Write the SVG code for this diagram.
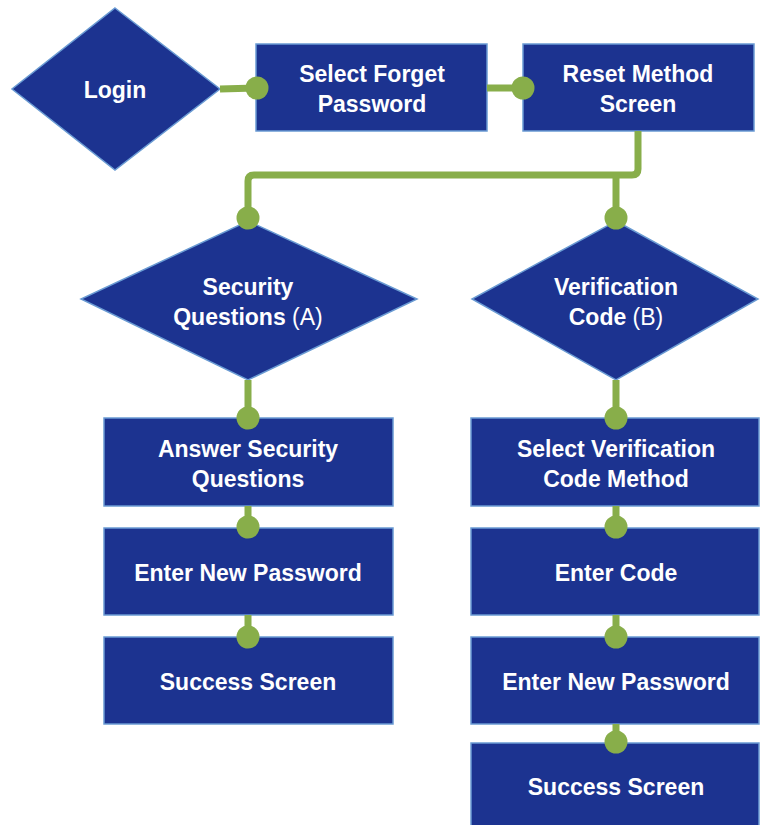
<svg xmlns="http://www.w3.org/2000/svg" width="760" height="825" viewBox="0 0 760 825">
  <style>
    .box { fill: #1c3390; stroke: #6a9bd3; stroke-width: 1.5; }
    .lbl { font-family: "Liberation Sans", Arial, sans-serif; font-size: 23px; font-weight: bold; fill: #ffffff; text-anchor: middle; }
    .thin { font-weight: normal; }
    .wire { fill: none; stroke: #88ae4a; stroke-width: 7; stroke-linejoin: round; }
    .dot { fill: #88ae4a; }
  </style>
  <rect width="760" height="825" fill="#ffffff"/>

  <g id="login">
    <polygon class="box" points="115,8 220,89 115,170 12,89"/>
    <text class="lbl" x="115" y="98">Login</text>
  </g>
  <g id="select-forget">
    <rect class="box" x="256" y="44" width="231" height="87"/>
    <text class="lbl" x="372" y="82">Select Forget</text>
    <text class="lbl" x="372" y="112">Password</text>
  </g>
  <g id="reset-method">
    <rect class="box" x="523" y="44" width="231" height="87"/>
    <text class="lbl" x="638" y="82">Reset Method</text>
    <text class="lbl" x="638" y="112">Screen</text>
  </g>

  <g id="security-questions">
    <polygon class="box" points="248,221 417,299 248,380 81,299"/>
    <text class="lbl" x="248" y="295">Security</text>
    <text class="lbl" x="248" y="325">Questions <tspan class="thin">(A)</tspan></text>
  </g>
  <g id="verification-code">
    <polygon class="box" points="616,221 758,299 616,380 472,299"/>
    <text class="lbl" x="616" y="295">Verification</text>
    <text class="lbl" x="616" y="325">Code <tspan class="thin">(B)</tspan></text>
  </g>

  <g id="answer-questions">
    <rect class="box" x="104" y="418" width="289" height="88"/>
    <text class="lbl" x="248" y="457">Answer Security</text>
    <text class="lbl" x="248" y="487">Questions</text>
  </g>
  <g id="new-password-a">
    <rect class="box" x="104" y="528" width="289" height="87"/>
    <text class="lbl" x="248" y="581">Enter New Password</text>
  </g>
  <g id="success-a">
    <rect class="box" x="104" y="637" width="289" height="87"/>
    <text class="lbl" x="248" y="690">Success Screen</text>
  </g>

  <g id="select-code-method">
    <rect class="box" x="471" y="418" width="288" height="88"/>
    <text class="lbl" x="616" y="457">Select Verification</text>
    <text class="lbl" x="616" y="487">Code Method</text>
  </g>
  <g id="enter-code">
    <rect class="box" x="471" y="528" width="288" height="87"/>
    <text class="lbl" x="616" y="581">Enter Code</text>
  </g>
  <g id="new-password-b">
    <rect class="box" x="471" y="637" width="288" height="87"/>
    <text class="lbl" x="616" y="690">Enter New Password</text>
  </g>
  <g id="success-b">
    <rect class="box" x="471" y="743" width="288" height="90"/>
    <text class="lbl" x="616" y="795">Success Screen</text>
  </g>

  <g id="connectors">
    <path class="wire" d="M220,89 L257,88"/>
    <circle class="dot" cx="257" cy="88" r="11.5"/>
    <path class="wire" d="M487,88 H523"/>
    <circle class="dot" cx="523" cy="88" r="11.5"/>

    <path class="wire" d="M638,131 V169 Q638,175 632,175 H254 Q248,175 248,181 V218"/>
    <path class="wire" d="M616,175 V218"/>
    <circle class="dot" cx="248" cy="218" r="11.5"/>
    <circle class="dot" cx="616" cy="218" r="11.5"/>

    <path class="wire" d="M248,380 V418 M248,506 V528 M248,615 V637"/>
    <circle class="dot" cx="248" cy="418" r="11.5"/>
    <circle class="dot" cx="248" cy="527" r="11.5"/>
    <circle class="dot" cx="248" cy="637" r="11.5"/>

    <path class="wire" d="M616,380 V418 M616,506 V528 M616,615 V637 M616,724 V743"/>
    <circle class="dot" cx="616" cy="418" r="11.5"/>
    <circle class="dot" cx="616" cy="527" r="11.5"/>
    <circle class="dot" cx="616" cy="637" r="11.5"/>
    <circle class="dot" cx="616" cy="742" r="11.5"/>
  </g>
</svg>
